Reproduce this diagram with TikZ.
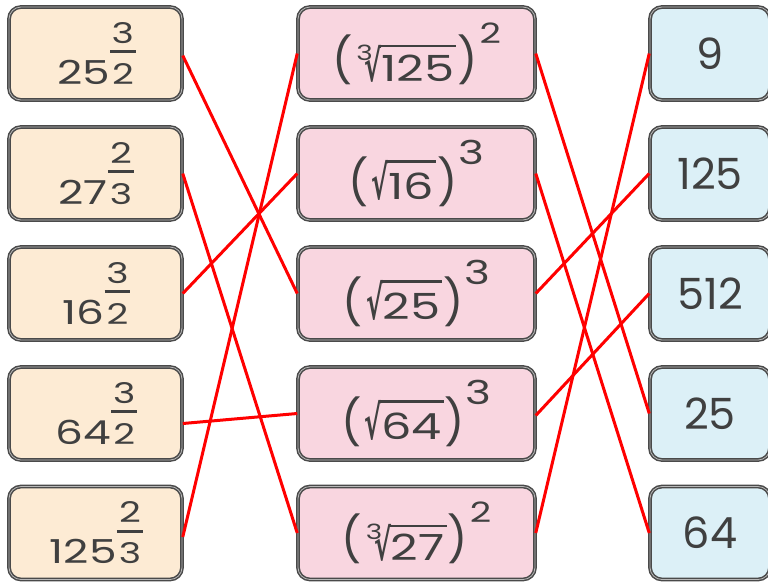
\documentclass[tikz,border=0pt]{standalone}
\usepackage{fontspec}
\usepackage{graphicx}
\setmainfont{Poppins}
\newfontfamily\dejavu{DejaVu Sans}
\newfontfamily\wide[FakeStretch=1.33]{Poppins}
\definecolor{boxline}{HTML}{4A4A4A}
\definecolor{boxmid}{HTML}{B8B8B8}
\definecolor{lfill}{HTML}{FDEBD4}
\definecolor{mfill}{HTML}{F9D6E0}
\definecolor{rfill}{HTML}{DCF0F7}
\definecolor{txt}{HTML}{404040}
\newsavebox\denbox
\newsavebox\radbox
\newsavebox\tallbox
\newcommand\fs[1]{\fontsize{#1}{#1}\selectfont}
\newcommand\W[1]{{\wide#1}}
% glyph forced to total height #2, depth #3 (natural aspect)
\newcommand\tall[3]{\sbox\tallbox{\resizebox*{!}{#2}{#1}}\leavevmode\raise\dimexpr\dp\tallbox-#3\relax\copy\tallbox}
% radical sign forced to width #1, total height #2, depth #3
\newcommand\radsign[3]{\sbox\tallbox{\resizebox*{#1}{#2}{\dejavu\bfseries √}}\leavevmode\raise\dimexpr\dp\tallbox-#3\relax\copy\tallbox}
% power with stacked fraction exponent: base, numerator, denominator
\newcommand\pw[3]{\W{\fs{33}#1}\kern2pt\sbox\denbox{\W{\fs{28.5}#3}}%
  \rlap{\kern-2pt\vrule width \dimexpr\wd\denbox+4pt\relax height 34pt depth -31pt}%
  \rlap{\makebox[\wd\denbox][c]{\raisebox{41pt}{\W{\fs{28.5}#2}}}}\usebox\denbox}
% (sqrt x)^e
\newcommand\sqp[2]{%
  \tall{\fs{40}(}{50pt}{7pt}\kern3pt
  \radsign{17pt}{40pt}{1pt}\kern-1.5pt
  \sbox\radbox{\kern1pt\W{\fs{36}#1}\kern2pt}\rlap{\vrule width \wd\radbox height 39.2pt depth -37pt}\usebox\radbox\kern1pt
  \tall{\fs{40})}{50pt}{7pt}\kern1pt
  \raisebox{35pt}{\W{\fs{33}#2}}}
% (cbrt x)^e
\newcommand\cbp[2]{%
  \tall{\fs{40}(}{50pt}{3pt}\kern4pt
  \raisebox{21pt}{\W{\fs{21}3}}\kern-8pt
  \radsign{17pt}{37pt}{1pt}\kern-1.5pt
  \sbox\radbox{\kern1pt\W{\fs{36}#1}\kern2pt}\rlap{\vrule width \wd\radbox height 36.2pt depth -34pt}\usebox\radbox\kern1pt
  \tall{\fs{40})}{50pt}{3pt}\kern2pt
  \raisebox{38pt}{\W{\fs{28}#2}}}
\begin{document}
\begin{tikzpicture}[x=1pt,y=-1pt,
  box/.style={rounded corners=12pt, draw=boxline, double=boxmid, line width=1.5pt,
    double distance=0.8pt, text=txt, inner sep=0pt, minimum height=93pt},
  lbox/.style={box, fill=lfill, minimum width=173pt},
  mbox/.style={box, fill=mfill, minimum width=237pt},
  rbox/.style={box, fill=rfill, minimum width=120pt, font=\fs{43}},
  link/.style={draw=red, line width=3pt}]
\useasboundingbox (0,0) rectangle (768,582);
% left column
\node[lbox] (l1) at (95.5,53.5)  {\pw{25}{3}{2}};
\node[lbox] (l2) at (95.5,173.5) {\pw{27}{2}{3}};
\node[lbox] (l3) at (95.5,293.5) {\pw{16}{3}{2}};
\node[lbox] (l4) at (95.5,413.5) {\pw{64}{3}{2}};
\node[lbox] (l5) at (95.5,533)   {\pw{125}{2}{3}};
% middle column
\node[mbox] (m1) at (416.5,53.5)  {\cbp{125}{2}};
\node[mbox] (m2) at (416.5,173.5) {\sqp{16}{3}};
\node[mbox] (m3) at (416.5,293.5) {\sqp{25}{3}};
\node[mbox] (m4) at (416.5,413.5) {\sqp{64}{3}};
\node[mbox] (m5) at (416.5,533)   {\cbp{27}{2}};
% right column
\node[rbox] (r1) at (710,53.5)  {9};
\node[rbox] (r2) at (710,173.5) {125};
\node[rbox] (r3) at (710,293.5) {512};
\node[rbox] (r4) at (710,413.5) {25};
\node[rbox] (r5) at (710,533)   {64};
% links left -> middle
\draw[link] ([yshift=-2pt]l1.east) -- (m3.west);
\draw[link] (l2.east) -- (m5.west);
\draw[link] (l3.east) -- (m2.west);
\draw[link] ([yshift=-10pt]l4.east) -- (m4.west);
\draw[link] ([yshift=-4pt]l5.east) -- (m1.west);
% links middle -> right
\draw[link] (m1.east) -- (r4.west);
\draw[link] (m2.east) -- (r5.west);
\draw[link] (m3.east) -- (r2.west);
\draw[link] ([yshift=-2pt]m4.east) -- (r3.west);
\draw[link] (m5.east) -- (r1.west);
\end{tikzpicture}
\end{document}
